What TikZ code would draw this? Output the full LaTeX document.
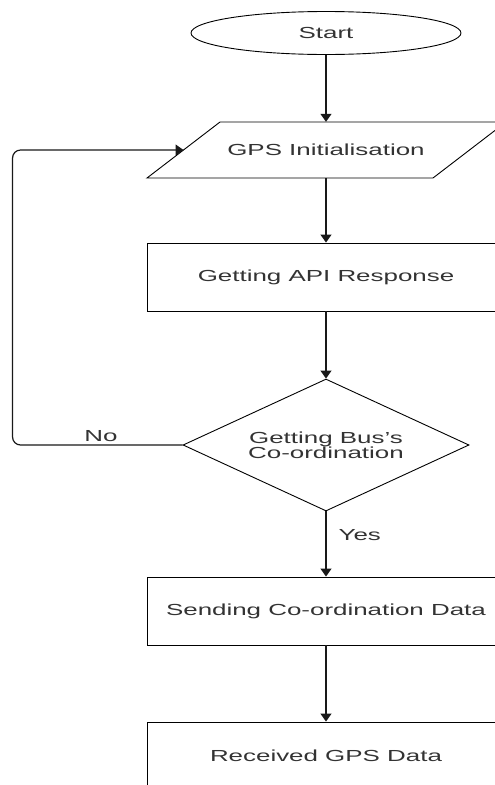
\documentclass[tikz,border=0pt]{standalone}
\usepackage{fontspec}
\setmainfont[FakeStretch=1.62]{Liberation Sans}
\usepackage{xcolor}
\usepackage{tikz}
\usetikzlibrary {shapes.geometric,arrows.meta}

\begin{document}
\begin{tikzpicture}[x=1pt,y=-1pt,
every node/.style={font=\fontsize{16}{15}\selectfont,text=black!80},
term/.style={ellipse,draw,line width=0.9pt,minimum width=270,minimum height=43,inner sep=0},
io/.style={rectangle,minimum width=286,minimum height=56,inner sep=0},
box/.style={rectangle,draw,line width=0.9pt,minimum width=358,minimum height=68,inner sep=0},
dec/.style={diamond,draw,line width=0.9pt,aspect=2.17,minimum width=286,minimum height=132,
  inner sep=0,align=center},
lab/.style={inner sep=0mm},
arr/.style={-{Triangle[width=11,length=8]},line width=1.2pt,black!90}
]
\useasboundingbox (0,0) rectangle (495,785);

\path (326,33)  node[term] (start) {Start}
      (326,150) node[io] (gps) {GPS Initialisation}
      (326,277) node[box] (api) {Getting API Response}
      (326,445) node[dec] (bus) {Getting Bus's\\Co-ordination}
      (326,611) node[box] (send) {Sending Co-ordination Data}
      (326,756) node[box] (recv) {Received GPS Data};
% input/output slant
\draw[line width=0.9pt] (147,178) -- (220,122) -- (506,122) -- (433,178) -- cycle;
\coordinate (gpsin) at (183.5,150);

\draw[arr] (start) -- (gps);
\draw[arr] (gps) -- (api);
\draw[arr] (api) -- (bus);
\draw[arr] (bus) -- (send) node[lab,pos=0.37,right=12pt] (yes) {Yes};
\draw[arr] (send) -- (recv);
\draw[arr,rounded corners=8] (bus.west) -- ++(-170,0)
  node[lab,pos=0.48,above=3pt] (no) {No} |- (gpsin);
\end{tikzpicture}
\end{document}
